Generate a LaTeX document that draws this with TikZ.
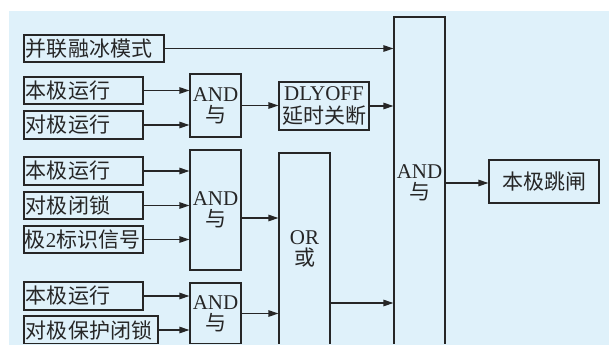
\documentclass[tikz,border=0pt]{standalone}
\usepackage{fontspec}
\setmainfont{Liberation Serif}
\newfontfamily\cjk{Noto Sans CJK SC}
\usetikzlibrary{arrows.meta}
\definecolor{bgblue}{RGB}{223,241,250}
\definecolor{ink}{RGB}{38,38,38}
\newcommand\zhtxt[1]{{\cjk #1}}
\tikzset{
  box/.style={draw=ink, line width=1.2bp, inner sep=0pt, text=ink,
    font=\fontsize{21bp}{21bp}\selectfont},
  inbox/.style={box, align=left},
  gate/.style={box, align=center},
  arr/.style={draw=ink, line width=1.2bp, -{Triangle[length=10bp,width=6.5bp]}}
}
\begin{document}
\begin{tikzpicture}[x=1bp,y=-1bp]
\useasboundingbox (0,0) rectangle (609,345);
\fill[bgblue] (9,11) rectangle (609,345);
\begin{scope}
\clip (0,0) rectangle (609,343.3);
% input boxes
\node[inbox, minimum width=140bp, minimum height=27bp, text width=136bp] (b0) at (94,48.5) {\zhtxt{并联融冰模式}};
\node[inbox, minimum width=119bp, minimum height=27bp, text width=115bp] (b1) at (83.5,90.5) {\zhtxt{本极运行}};
\node[inbox, minimum width=119bp, minimum height=28bp, text width=115bp] (b2) at (83.5,125) {\zhtxt{对极运行}};
\node[inbox, minimum width=119bp, minimum height=28bp, text width=115bp] (b3) at (83.5,171) {\zhtxt{本极运行}};
\node[inbox, minimum width=119bp, minimum height=27bp, text width=115bp] (b4) at (83.5,205.5) {\zhtxt{对极闭锁}};
\node[inbox, minimum width=119bp, minimum height=27bp, text width=117bp] (b5) at (83.5,239.5) {\zhtxt{极}2\zhtxt{标识信号}};
\node[inbox, minimum width=119bp, minimum height=28bp, text width=115bp] (b6) at (83.5,296) {\zhtxt{本极运行}};
\node[inbox, minimum width=134bp, minimum height=28bp, text width=130bp] (b7) at (91,330) {\zhtxt{对极保护闭锁}};
% gates
\node[gate, minimum width=51bp, minimum height=63bp] (a1) at (215.5,105.5) {AND\\\zhtxt{与}};
\node[gate, minimum width=51bp, minimum height=120bp] (a2) at (215.5,210) {AND\\\zhtxt{与}};
\node[gate, minimum width=51bp, minimum height=61bp] (a3) at (215.5,313.5) {AND\\\zhtxt{与}};
\node[gate, minimum width=90bp, minimum height=48bp, font=\fontsize{21bp}{23bp}\selectfont] (d) at (324,106) {DLYOFF\\\zhtxt{延时关断}};
\node[gate, minimum width=51bp, minimum height=192bp] (or) at (304.5,249) {OR\\\zhtxt{或}};
\node[gate, minimum width=51bp, minimum height=332bp] (big) at (419.5,183) {AND\\\zhtxt{与}};
\node[gate, minimum width=110bp, minimum height=43bp] (out) at (544,181.5) {\zhtxt{本极跳闸}};
% connectors
\coordinate (o2) at (0,218);
\coordinate (o3) at (0,303);
\draw[arr] (b0.east) -- (b0.east -| big.west);
\draw[arr] (b1.east) -- (b1.east -| a1.west);
\draw[arr] (b2.east) -- (b2.east -| a1.west);
\draw[arr] (a1.east) -- (a1.east -| d.west);
\draw[arr] (d.east) -- (d.east -| big.west);
\draw[arr] (b3.east) -- (b3.east -| a2.west);
\draw[arr] (b4.east) -- (b4.east -| a2.west);
\draw[arr] (b5.east) -- (b5.east -| a2.west);
\draw[arr] (a2.east |- o2) -- (or.west |- o2);
\draw[arr] (b6.east) -- (b6.east -| a3.west);
\draw[arr] (b7.east) -- (b7.east -| a3.west);
\draw[arr] (a3.east) -- (a3.east -| or.west);
\draw[arr] (or.east |- o3) -- (big.west |- o3);
\draw[arr] (big.east) -- (big.east -| out.west);
\end{scope}
\end{tikzpicture}
\end{document}
